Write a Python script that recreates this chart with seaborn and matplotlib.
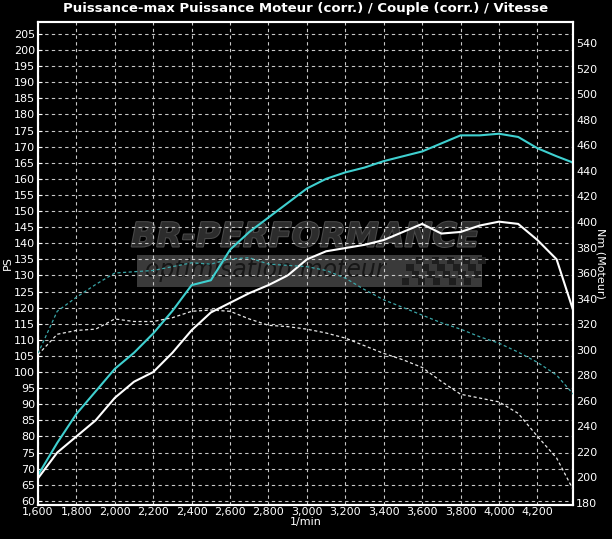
import matplotlib
matplotlib.use("Agg")
import matplotlib.pyplot as plt
import matplotlib.ticker as mticker
import matplotlib.patheffects as pe
from matplotlib.patches import Rectangle
import seaborn as sns
import pandas as pd

rpm = [1600, 1700, 1800, 1900, 2000, 2100, 2200, 2300, 2400, 2500,
       2600, 2700, 2800, 2900, 3000, 3100, 3200, 3300, 3400, 3500,
       3600, 3700, 3800, 3900, 4000, 4100, 4200, 4300, 4387]

ps_cyan = [68, 78, 87, 94, 101, 106, 112, 119, 127, 128.5,
           138, 143.5, 148, 152.5, 157, 160, 162, 163.5, 165.5, 167,
           168.5, 171, 173.5, 173.5, 174, 173, 169.5, 167, 165]

ps_white = [67, 75, 80, 85, 92, 97, 100, 106, 113, 118.5,
            121.5, 124.5, 127, 130, 135, 137.5, 138.5, 139.5, 141, 143.5,
            146, 143, 143.5, 145.5, 146.7, 146, 141, 135, 119]

nm_cyan = [297, 330, 341, 351, 360, 361, 362, 365, 368, 367,
           371, 372, 367, 366, 365, 362, 356, 347, 339, 333,
           327, 321, 316, 310, 305, 298, 290, 280, 265]

nm_white = [296, 312, 315, 316, 324, 322, 322, 325, 330, 331,
            330, 324, 319, 318, 316, 313, 309, 303, 297, 292,
            286, 275, 265, 262, 259, 250, 232, 215, 190]

ps_ticks = list(range(60, 206, 5))
nm_ticks = list(range(180, 541, 20))
rpm_ticks = list(range(1600, 4201, 200))

df = pd.DataFrame({"rpm": rpm, "ps_cyan": ps_cyan, "ps_white": ps_white,
                   "nm_cyan": nm_cyan, "nm_white": nm_white})

sns.set_theme(style="dark")
plt.rcParams["font.family"] = ["Liberation Sans Narrow", "DejaVu Sans"]
plt.rcParams["text.color"] = "white"
plt.rcParams["axes.labelcolor"] = "white"
plt.rcParams["xtick.color"] = "white"
plt.rcParams["ytick.color"] = "white"

CYAN = "#3fd0d0"
CYAN_DIM = "#3aa6a8"
GRID = "#c8c8c8"

fig = plt.figure(figsize=(6.12, 5.39), dpi=100, facecolor="black")
ax = fig.add_axes([0.0621, 0.0636, 0.8747, 0.895])
ax.set_facecolor("black")
ax2 = ax.twinx()

# watermark (logo behind the grid)
ax.text(0.5, 0.555, "BR-PERFORMANCE", transform=ax.transAxes, ha="center",
        va="center", fontsize=24, fontweight="bold", fontstyle="italic",
        family="DejaVu Sans", color="#2c2c2c", zorder=0.2,
        path_effects=[pe.withStroke(linewidth=1.5, foreground="#4a4a4a")])
ax.add_patch(Rectangle((0.184, 0.452), 0.645, 0.066, transform=ax.transAxes,
                       facecolor="#3a3a3a", edgecolor="none", zorder=0.1))
ax.text(0.20, 0.486, "optimisation moteur", transform=ax.transAxes,
        ha="left", va="center", fontsize=17, fontstyle="italic",
        family="DejaVu Sans", color="#161616", zorder=0.2)
for i in range(10):
    for j in range(4):
        if (i + j) % 2 == 0:
            ax.add_patch(Rectangle((0.68 + i * 0.0145 + j * 0.004, 0.455 + j * 0.015),
                                   0.0135, 0.014, transform=ax.transAxes,
                                   facecolor="#1e1e1e", edgecolor="none", zorder=0.15))

sns.lineplot(data=df, x="rpm", y="ps_cyan", ax=ax, color=CYAN, linewidth=1.5, zorder=3)
sns.lineplot(data=df, x="rpm", y="ps_white", ax=ax, color="white", linewidth=1.5, zorder=3)
sns.lineplot(data=df, x="rpm", y="nm_cyan", ax=ax2, color=CYAN_DIM, linewidth=0.9,
             zorder=3).lines[0].set_dashes([2.5, 2])
sns.lineplot(data=df, x="rpm", y="nm_white", ax=ax2, color="#e8e8e8", linewidth=0.9,
             zorder=3).lines[1].set_dashes([2.5, 2])

ax.set_xlim(1600, 4387)
ax.set_ylim(58.8, 208.6)
ax2.set_ylim(178.4, 556.5)

ax.set_xticks(rpm_ticks)
ax.set_yticks(ps_ticks)
ax2.set_yticks(nm_ticks)
ax.xaxis.set_major_formatter(mticker.FuncFormatter(lambda v, p: f"{int(v):,}"))

ax.grid(True, color=GRID, linestyle=(0, (3, 3)), linewidth=0.8)
ax.set_axisbelow(True)
ax2.grid(False)

for a in (ax, ax2):
    for s in a.spines.values():
        s.set_color("white")
        s.set_linewidth(1.5)
ax.tick_params(axis="both", labelsize=8, length=3, width=0.8, direction="in", pad=2)
ax2.tick_params(axis="y", labelsize=8, length=0, pad=2)

ax.set_xlabel("1/min", fontsize=8, labelpad=0)
ax.set_ylabel("PS", fontsize=8, labelpad=1)
ax2.set_ylabel("Nm (Moteur)", fontsize=8, rotation=270, labelpad=6)

fig.suptitle("Puissance-max Puissance Moteur (corr.) / Couple (corr.) / Vitesse",
             y=0.997, fontsize=9.5, fontweight="bold", color="white")

fig.savefig("out.png", dpi=100, facecolor="black")
